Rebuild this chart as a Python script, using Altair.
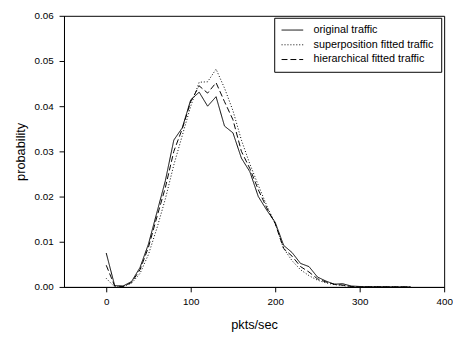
import altair as alt
import pandas as pd

x_vals = [0, 10, 20, 30, 40, 50, 60, 70, 80, 90, 100, 110, 120, 130, 140, 150, 160, 170, 180,
          190, 200, 210, 220, 230, 240, 250, 260, 270, 280, 290, 300, 310, 320, 330, 340, 350, 360]

original = [0.0075, 0.0003, 0.0002, 0.0012, 0.0043, 0.0095, 0.0165, 0.0235, 0.0325, 0.0352,
            0.0414, 0.0431, 0.0400, 0.0421, 0.0356, 0.0341, 0.0285, 0.0255, 0.0200, 0.0170,
            0.0143, 0.0092, 0.0076, 0.0052, 0.0045, 0.0022, 0.0013, 0.0006, 0.0007, 0.0002,
            0.0001, 0.00005, 0.00004, 0.00003, 0.00002, 0.00001, 0.00001]

superposition = [0.0019, 0.0000, 0.0001, 0.0008, 0.0030, 0.0072, 0.0130, 0.0195, 0.0270, 0.0335,
                 0.0400, 0.0453, 0.0454, 0.0482, 0.0440, 0.0390, 0.0325, 0.0272, 0.0225, 0.0180,
                 0.0140, 0.0085, 0.0058, 0.0038, 0.0025, 0.0015, 0.0009, 0.0005, 0.0003, 0.0001,
                 0.0000, 0.0, 0.0, 0.0, 0.0, 0.0, 0.0]

hierarchical = [0.0048, 0.0002, 0.0001, 0.0010, 0.0038, 0.0088, 0.0155, 0.0220, 0.0300, 0.0350,
                0.0410, 0.0445, 0.0429, 0.0452, 0.0410, 0.0370, 0.0300, 0.0262, 0.0215, 0.0175,
                0.0140, 0.0085, 0.0068, 0.0045, 0.0033, 0.0018, 0.0011, 0.0006, 0.0004, 0.0001,
                0.0000, 0.0, 0.0, 0.0, 0.0, 0.0, 0.0]

series_names = ["original traffic", "superposition fitted traffic", "hierarchical fitted traffic"]

rows = []
for name, vals in zip(series_names, [original, superposition, hierarchical]):
    for xv, yv in zip(x_vals, vals):
        rows.append({"x": xv, "p": yv, "series": name})
df = pd.DataFrame(rows)

FONT = "Liberation Sans"

chart = alt.Chart(df).mark_line(color="black", strokeWidth=1, clip=True).encode(
    x=alt.X("x:Q", title="pkts/sec",
            scale=alt.Scale(domain=[-50, 400], nice=False, zero=False),
            axis=alt.Axis(values=[0, 100, 200, 300, 400], grid=False, tickSize=5,
                          labelFontSize=10, titleFontSize=13, titleFontWeight="normal",
                          titlePadding=12, labelPadding=5, labelFlush=False)),
    y=alt.Y("p:Q", title="probability",
            scale=alt.Scale(domain=[0, 0.06], nice=False),
            axis=alt.Axis(values=[0, 0.01, 0.02, 0.03, 0.04, 0.05, 0.06], format=".2f",
                          grid=False, tickSize=5, labelFontSize=10, titleFontSize=13,
                          titleFontWeight="normal", titlePadding=7, labelPadding=6,
                          labelFlush=False)),
    strokeDash=alt.StrokeDash("series:N",
        scale=alt.Scale(domain=series_names, range=[[1, 0], [1, 2], [6, 3]]),
        legend=alt.Legend(title=None, orient="none", legendX=214, legendY=2,
                          symbolType="M-1,0H3.4", symbolSize=100, symbolStrokeColor="black",
                          symbolFillColor="transparent",
                          symbolStrokeWidth=1, labelFontSize=11, labelFont=FONT,
                          strokeColor="black", fillColor="white", padding=7,
                          rowPadding=3, labelOffset=22)),
    detail="series:N",
    order="x:Q",
).properties(
    width=387, height=276,
    autosize=alt.AutoSizeParams(type="none"),
    padding={"left": 57, "top": 5, "right": 9, "bottom": 47},
).configure_view(
    stroke="black", strokeWidth=1
).configure_axis(
    domainColor="black", tickColor="black", labelColor="black", titleColor="black",
    labelFont=FONT, titleFont=FONT
)

chart.save("out.html", embed_options={"renderer": "svg", "actions": False})
